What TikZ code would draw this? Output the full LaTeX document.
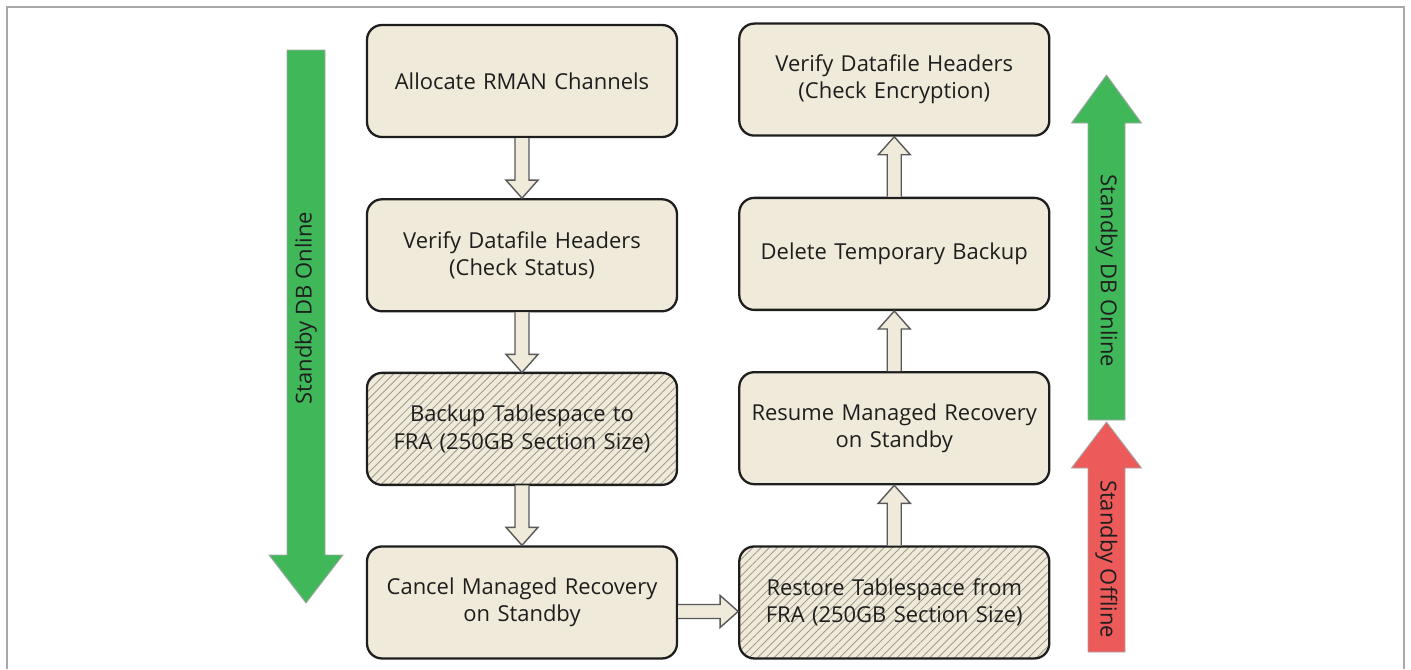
\documentclass[tikz,border=0pt]{standalone}
\usepackage{fontspec}
\setmainfont{Open Sans}
\usetikzlibrary{positioning, calc, patterns.meta}
\definecolor{cream}{HTML}{F0EADA}
\definecolor{ink}{HTML}{1E1E1E}
\definecolor{online}{HTML}{40B85A}
\definecolor{offline}{HTML}{EC5A5A}
\definecolor{framegray}{HTML}{A8A8A8}
\definecolor{hatch}{HTML}{A39C8E}

\tikzset{
  stepbox/.style={draw=ink, fill=cream, line width=1.3pt, rounded corners=0.3cm,
    minimum width=6.2cm, minimum height=2.24cm, text width=5.9cm, align=center,
    font=\fontsize{12.5}{15.5}\selectfont, text=ink},
  hatchbox/.style={stepbox, preaction={fill=cream},
    pattern={Lines[angle=45,distance=3.3pt,line width=0.5pt]}, pattern color=hatch},
  flowarrow/.style={draw=black!65, fill=cream, line width=0.8pt, line join=miter},
  phase/.style={draw=black!35, line width=0.5pt},
  phaselabel/.style={font=\fontsize{12.5}{15}\selectfont, text=ink},
}

% hollow block arrow from #1 to #2
\newcommand{\blockarrow}[2]{%
  \coordinate (ba-s) at (#1);
  \coordinate (ba-t) at (#2);
  \coordinate (ba-h) at ($(ba-t)!0.36cm!(ba-s)$);
  \draw[flowarrow] ($(ba-s)!0.14cm!90:(ba-t)$) -- ($(ba-h)!0.14cm!90:(ba-t)$)
    -- ($(ba-h)!0.32cm!90:(ba-t)$) -- (ba-t) -- ($(ba-h)!0.32cm!-90:(ba-t)$)
    -- ($(ba-h)!0.14cm!-90:(ba-t)$) -- ($(ba-s)!0.14cm!-90:(ba-t)$);}

\begin{document}
\begin{tikzpicture}
\useasboundingbox (0,0) rectangle (28.22,-13.38);
\draw[framegray, line width=0.04cm] (0.14,-13.38) |- (28.08,-0.14) -- (28.08,-13.38);

% backup side
\node[stepbox] (l1) at (10.44,-1.62) {Allocate RMAN Channels};
\node[stepbox, below=1.2cm of l1] (l2) {Verify Datafile Headers\\(Check Status)};
\node[hatchbox, below=1.2cm of l2] (l3) {Backup Tablespace to\\FRA (250GB Section Size)};
\node[stepbox, below=1.2cm of l3] (l4) {Cancel Managed Recovery\\on Standby};

% restore side
\node[hatchbox, right=1.2cm of l4] (r4) {Restore Tablespace from\\FRA (250GB Section Size)};
\node[stepbox, above=1.2cm of r4] (r3) {Resume Managed Recovery\\on Standby};
\node[stepbox, above=1.2cm of r3] (r2) {Delete Temporary Backup};
\node[stepbox, above=1.2cm of r2] (r1) {Verify Datafile Headers\\(Check Encryption)};

\blockarrow{l1.south}{l2.north}
\blockarrow{l2.south}{l3.north}
\blockarrow{l3.south}{l4.north}
\blockarrow{[yshift=-0.18cm]l4.east}{[yshift=-0.18cm]r4.west}
\blockarrow{r4.north}{r3.south}
\blockarrow{r3.north}{r2.south}
\blockarrow{r2.north}{r1.south}

% standby state arrows
\draw[phase, fill=online] (5.74,-1.0) -- (6.5,-1.0) -- (6.5,-11.1) -- (6.86,-11.1)
  -- (6.12,-12.06) -- (5.38,-11.1) -- (5.74,-11.1) -- cycle;
\node[phaselabel, rotate=90] (onleft) at (6.12,-6.16) {Standby DB Online};

\draw[phase, fill=online] (21.76,-8.4) -- (21.76,-2.46) -- (21.43,-2.46) -- (22.13,-1.5)
  -- (22.83,-2.46) -- (22.5,-2.46) -- (22.5,-8.4) -- cycle;
\node[phaselabel, rotate=-90] (onright) at (22.13,-5.42) {Standby DB Online};

\draw[phase, fill=offline] (21.76,-13.04) -- (21.76,-9.36) -- (21.43,-9.36) -- (22.13,-8.44)
  -- (22.83,-9.36) -- (22.5,-9.36) -- (22.5,-13.04) -- cycle;
\node[phaselabel, rotate=-90] (offright) at (22.13,-11.18) {Standby Offline};
\end{tikzpicture}
\end{document}
